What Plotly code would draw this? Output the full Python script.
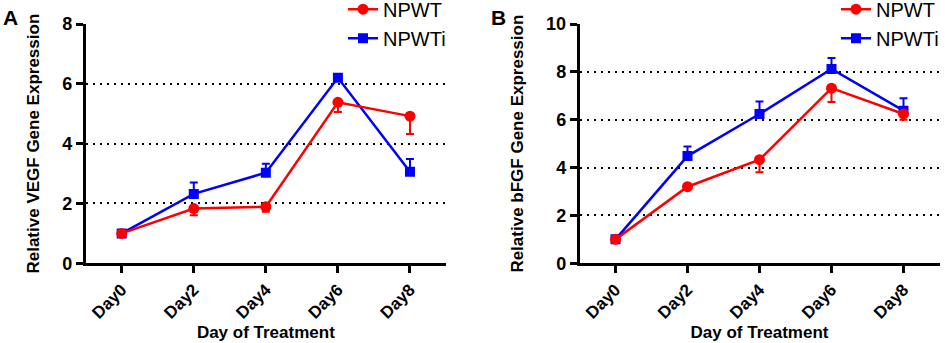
import plotly.graph_objects as go

days = ["Day0", "Day2", "Day4", "Day6", "Day8"]

# Panel A: VEGF
vegf_npwt = [1.0, 1.83, 1.89, 5.38, 4.92]
vegf_npwt_err = [0.05, 0.22, 0.17, 0.32, 0.60]
vegf_npwti = [1.0, 2.32, 3.03, 6.20, 3.06]
vegf_npwti_err = [0.05, 0.38, 0.30, 0.05, 0.43]

# Panel B: bFGF
bfgf_npwt = [1.0, 3.2, 4.33, 7.32, 6.24]
bfgf_npwt_err = [0.05, 0.05, 0.52, 0.58, 0.24]
bfgf_npwti = [1.0, 4.48, 6.24, 8.12, 6.38]
bfgf_npwti_err = [0.05, 0.40, 0.52, 0.46, 0.52]

RED = "#ff0000"
BLUE = "#0000ff"
FONT = "Liberation Sans, Arial, sans-serif"
W, H = 945, 343

fig = go.Figure()


def add_panel(xa, ya, leg, npwt, npwt_err, npwti, npwti_err):
    zeros = [0] * len(days)
    fig.add_trace(go.Scatter(
        x=days, y=npwti, name="NPWTi", mode="lines+markers",
        line=dict(color=BLUE, width=2.5),
        marker=dict(symbol="square", size=10, color=BLUE),
        error_y=dict(type="data", symmetric=False, array=npwti_err, arrayminus=zeros,
                     color=BLUE, thickness=2, width=4),
        xaxis=xa, yaxis=ya, legend=leg, legendrank=2))
    fig.add_trace(go.Scatter(
        x=days, y=npwt, name="NPWT", mode="lines+markers",
        line=dict(color=RED, width=2.5),
        marker=dict(symbol="circle", size=11, color=RED),
        error_y=dict(type="data", symmetric=False, array=zeros, arrayminus=npwt_err,
                     color=RED, thickness=2, width=4),
        xaxis=xa, yaxis=ya, legend=leg, legendrank=1))


add_panel("x", "y", "legend", vegf_npwt, vegf_npwt_err, vegf_npwti, vegf_npwti_err)
add_panel("x2", "y2", "legend2", bfgf_npwt, bfgf_npwt_err, bfgf_npwti, bfgf_npwti_err)

ydom = [1 - 263.3 / H, 1 - 24 / H]

xcommon = dict(
    type="category", range=[-0.5, 4.5], showline=True, linecolor="black", linewidth=2.5,
    ticks="outside", ticklen=7, tickwidth=2.5, tickcolor="black", tickangle=-45,
    tickfont=dict(family=FONT, size=17, color="black", weight="bold"),
    showgrid=False, zeroline=False,
    title=dict(text="Day of Treatment", font=dict(family=FONT, size=17, color="black", weight="bold"),
               standoff=4),
)
ycommon = dict(
    showline=True, linecolor="black", linewidth=2.5,
    ticks="outside", ticklen=7, tickwidth=2.5, tickcolor="black",
    tickfont=dict(family=FONT, size=18, color="black", weight="bold"),
    showgrid=True, gridcolor="black", gridwidth=2, griddash="2px,5px",
    zeroline=False, domain=ydom, dtick=2,
)

fig.update_layout(
    width=W, height=H,
    margin=dict(l=0, r=0, t=0, b=0, autoexpand=False),
    paper_bgcolor="white", plot_bgcolor="white",
    xaxis=dict(xcommon, domain=[85.7 / W, 446 / W], anchor="y"),
    xaxis2=dict(xcommon, domain=[579.5 / W, 939.5 / W], anchor="y2"),
    yaxis=dict(ycommon, range=[0, 8], anchor="x",
               title=dict(text="Relative VEGF Gene Expression",
                          font=dict(family=FONT, size=17, color="black", weight="bold"), standoff=19)),
    yaxis2=dict(ycommon, range=[0, 10], anchor="x2",
                title=dict(text="Relative bFGF Gene Expression",
                           font=dict(family=FONT, size=17, color="black", weight="bold"), standoff=19)),
    legend=dict(x=343 / W, y=1.03, xanchor="left", yanchor="top", bgcolor="rgba(0,0,0,0)",
                font=dict(family=FONT, size=20, color="black"), itemwidth=30),
    legend2=dict(x=836 / W, y=1.03, xanchor="left", yanchor="top", bgcolor="rgba(0,0,0,0)",
                 font=dict(family=FONT, size=20, color="black"), itemwidth=30),
    annotations=[
        dict(text="A", x=10 / W, y=1 - 17 / H, xref="paper", yref="paper", showarrow=False,
             xanchor="center", yanchor="middle", font=dict(family=FONT, size=21, color="black", weight="bold")),
        dict(text="B", x=498 / W, y=1 - 17 / H, xref="paper", yref="paper", showarrow=False,
             xanchor="center", yanchor="middle", font=dict(family=FONT, size=21, color="black", weight="bold")),
    ],
)

fig.write_html(
    "out.html",
    config={"displayModeBar": False},
    post_script="document.body.style.margin='0px';document.body.style.overflow='hidden';",
)
